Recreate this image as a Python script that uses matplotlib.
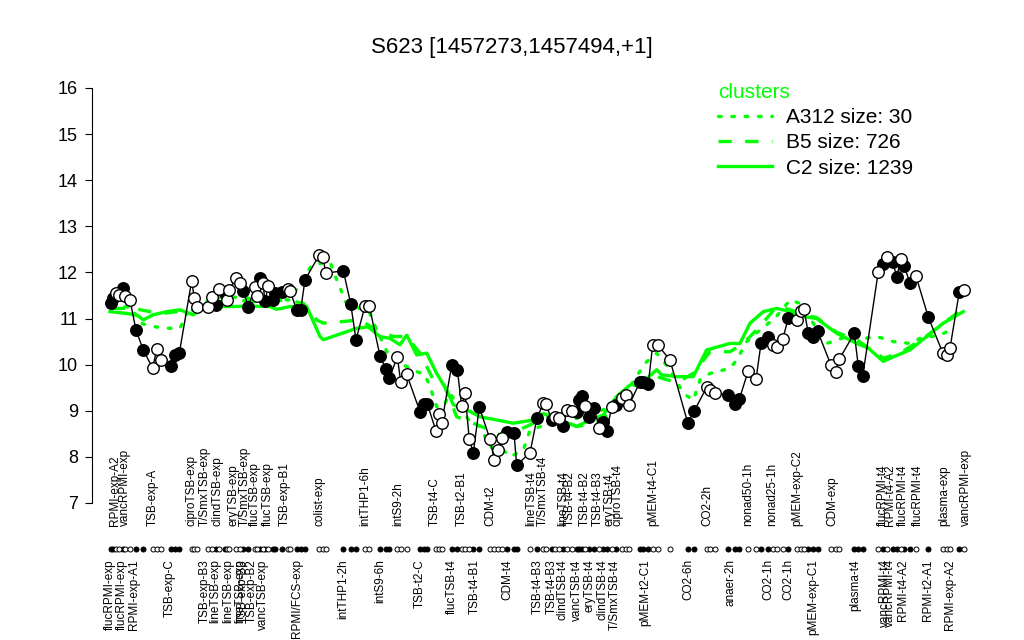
"""
S623 expression profile across conditions with cluster means
Output: out.png
"""

import matplotlib.pyplot as plt

plt.rcParams.update({
    'font.family': ['Liberation Sans', 'DejaVu Sans'],
    'font.size': 12,
})

GREEN = '#00FF00'

# sample positions (ordered along the condition axis), expression values, filled marker flag
sample_x = [110.7, 112.7, 116.0, 119.3, 123.3, 125.0, 130.0, 136.0, 143.3,
            152.7, 156.7, 161.0, 171.0, 175.0, 179.3, 191.7, 194.3, 196.7,
            208.3, 212.3, 216.0, 219.0, 225.0, 226.7, 229.0, 236.0, 240.0,
            243.3, 248.3, 255.0, 257.3, 260.0, 263.0, 265.0, 268.3, 272.7,
            275.0, 281.7, 288.3, 290.0, 296.7, 300.7, 305.0, 319.3, 323.0,
            325.7, 343.3, 350.7, 356.0, 365.0, 369.3, 380.0, 386.0, 389.3,
            397.3, 400.7, 406.7, 420.0, 424.0, 427.3, 436.0, 439.3, 441.7,
            451.7, 457.3, 461.7, 465.0, 469.3, 473.3, 479.3, 490.0, 494.3,
            498.3, 502.3, 507.3, 514.0, 516.7, 530.0, 537.0, 543.3, 546.0,
            551.7, 555.0, 559.3, 562.7, 567.3, 571.7, 576.7, 579.3, 581.7,
            585.0, 589.3, 594.3, 599.3, 602.7, 606.7, 611.7, 616.0, 621.7,
            626.0, 629.3, 640.0, 643.3, 648.3, 652.7, 657.7, 670.0, 687.7,
            694.3, 706.7, 710.0, 715.0, 728.3, 735.0, 739.3, 748.3, 756.0,
            761.0, 768.3, 772.7, 777.3, 782.7, 788.3, 796.7, 800.7, 804.0,
            808.3, 812.7, 817.7, 831.0, 836.0, 839.3, 854.3, 858.3, 862.7,
            878.3, 883.3, 886.7, 892.7, 896.7, 901.0, 904.3, 910.0, 916.0,
            928.3, 942.7, 946.7, 950.0, 959.3, 964.3]
expr = [11.33, 11.44, 11.56, 11.51, 11.66, 11.48, 11.40, 10.75, 10.32,
        9.92, 10.34, 10.10, 9.97, 10.21, 10.25, 11.82, 11.44, 11.26,
        11.26, 11.46, 11.30, 11.64, 11.55, 11.40, 11.62, 11.87, 11.77,
        11.60, 11.26, 11.68, 11.48, 11.87, 11.77, 11.37, 11.71, 11.40,
        11.55, 11.58, 11.64, 11.60, 11.19, 11.19, 11.84, 12.38, 12.34,
        11.98, 12.04, 11.32, 10.54, 11.27, 11.27, 10.19, 9.90, 9.70,
        10.17, 9.63, 9.79, 8.98, 9.15, 9.15, 8.56, 8.93, 8.73,
        9.99, 9.89, 9.10, 9.38, 8.38, 8.09, 9.08, 8.38, 7.93,
        8.15, 8.40, 8.53, 8.51, 7.82, 8.09, 8.84, 9.16, 9.15,
        8.80, 8.87, 8.84, 8.67, 9.02, 9.00, 8.98, 9.23, 9.32,
        9.10, 8.86, 9.05, 8.62, 8.76, 8.56, 9.08, 9.13, 9.27,
        9.34, 9.13, 9.63, 9.63, 9.58, 10.43, 10.43, 10.10, 8.74,
        9.00, 9.51, 9.45, 9.38, 9.34, 9.15, 9.25, 9.87, 9.68,
        10.46, 10.59, 10.43, 10.38, 10.55, 11.01, 10.96, 11.17, 11.20,
        10.68, 10.59, 10.72, 9.99, 9.85, 10.12, 10.68, 9.97, 9.75,
        12.02, 12.18, 12.34, 12.23, 11.91, 12.29, 12.13, 11.77, 11.92,
        11.03, 10.26, 10.21, 10.36, 11.58, 11.62]
filled = [1, 1, 0, 0, 1, 0, 0, 1, 1,
          0, 0, 0, 1, 1, 1, 0, 0, 0,
          0, 0, 1, 0, 1, 0, 0, 0, 0,
          1, 1, 0, 0, 1, 0, 1, 0, 1,
          1, 1, 0, 0, 1, 1, 1, 0, 0,
          0, 1, 1, 1, 0, 0, 1, 1, 1,
          0, 0, 0, 1, 1, 1, 0, 0, 0,
          1, 1, 0, 0, 0, 1, 1, 0, 0,
          0, 0, 1, 1, 1, 0, 1, 0, 0,
          1, 0, 0, 1, 0, 0, 1, 1, 1,
          0, 1, 1, 0, 1, 1, 0, 1, 0,
          0, 0, 1, 1, 1, 0, 0, 0, 1,
          1, 0, 0, 0, 1, 1, 1, 0, 0,
          1, 1, 0, 0, 0, 1, 0, 0, 0,
          1, 1, 1, 0, 0, 0, 1, 1, 1,
          0, 1, 0, 1, 1, 0, 1, 1, 0,
          1, 0, 0, 0, 1, 0]

# cluster mean profiles
c2_x = [110, 123, 136.7, 143.3, 153, 166.7, 180, 193, 206.7, 233, 246.7, 270,
        276.7, 290, 306.7, 320, 323.3, 356.7, 368, 380, 390, 400, 406.7, 416.7,
        426.7, 436.7, 446.7, 453.3, 466.7, 480, 496.7, 513.3, 533.3, 543.3, 560,
        576.7, 590, 603.3, 616.7, 630, 643.3, 656.7, 661.7, 676.7, 693.3, 706.7,
        730, 740, 750, 763.3, 776.7, 790, 805, 816.7, 836.7, 856.7, 868.3,
        883.3, 893.3, 910, 926.7, 943.3, 963.3]
c2_y = [11.15, 11.12, 11.08, 10.97, 11.08, 11.15, 11.19, 11.08, 11.26, 11.26,
        11.27, 11.26, 11.20, 11.26, 11.26, 10.61, 10.54, 10.79, 10.82, 10.61,
        10.57, 10.43, 10.64, 10.21, 10.25, 9.81, 9.45, 9.13, 9.02, 8.87, 8.80,
        8.73, 8.80, 8.94, 8.80, 8.66, 8.80, 8.91, 9.31, 9.56, 9.63, 9.89, 9.78,
        9.74, 9.74, 10.32, 10.46, 10.46, 10.90, 11.15, 11.22, 11.15, 11.04,
        11.00, 10.68, 10.46, 10.36, 10.07, 10.17, 10.32, 10.61, 10.90, 11.15]
b5_x = [111.7, 133, 150, 163.3, 176.7, 190, 206.7, 233, 256.7, 286.7, 303.3,
        316.7, 323.3, 340, 360, 376.7, 393.3, 406.7, 420, 433.3, 443.3, 456.7,
        473.3, 490, 503.3, 526.7, 550, 576.7, 596.7, 613.3, 630, 643, 656.7,
        676.7, 693.3, 710, 730, 743.3, 760, 776.7, 790, 805, 816.7, 836.7,
        856.7, 883.3, 900, 923.3, 963.3]
b5_y = [11.22, 11.22, 11.15, 11.11, 11.15, 11.15, 11.33, 11.40, 11.37, 11.40,
        11.33, 10.97, 10.90, 10.93, 10.97, 10.75, 10.61, 10.61, 10.25, 9.67,
        9.60, 8.87, 8.73, 8.58, 8.44, 8.66, 8.91, 8.66, 8.73, 9.02, 9.52, 9.61,
        9.74, 9.61, 9.81, 10.28, 10.28, 10.46, 10.83, 11.26, 11.19, 11.08,
        11.02, 10.70, 10.54, 10.14, 10.25, 10.57, 11.22]
a312_x = [111.7, 120, 131.7, 140, 153.3, 163.3, 180, 190, 223.3, 250, 270, 290,
          311.7, 330, 336.7, 341.7, 345, 370, 376.7, 390, 406.7, 416.7, 425,
          430, 433.3, 436.7, 443.3, 450, 461.7, 470, 480, 490, 503.3, 510,
          523.3, 530, 550, 566.7, 586.7, 603.3, 630, 645, 656.7, 670, 683.3,
          693.3, 700, 710, 730, 736.7, 746.7, 760, 775, 790, 800, 826.7, 846.7,
          865, 876.7, 893.3, 910, 920, 940, 950]
a312_y = [11.26, 11.27, 11.24, 10.90, 10.83, 10.79, 10.79, 11.26, 11.48, 11.44,
          11.44, 11.40, 12.16, 12.23, 11.84, 11.58, 11.37, 11.11, 10.75, 10.14,
          9.96, 9.85, 9.78, 9.52, 9.31, 9.09, 9.09, 9.38, 9.02, 8.76, 8.66,
          8.22, 8.15, 8.00, 8.15, 8.58, 8.73, 8.73, 8.94, 9.02, 9.52, 10.03,
          10.25, 9.89, 9.38, 9.23, 9.67, 9.81, 9.92, 10.10, 10.50, 10.75, 11.01,
          11.40, 11.33, 10.46, 10.61, 10.57, 10.61, 10.50, 10.46, 10.57, 10.64,
          10.75]

# condition labels above and below the sample strip
top_x = [115, 125, 153, 191, 205, 218, 233, 245, 255, 268, 285,
         320, 365, 398, 435, 462, 490, 531, 543, 563, 570, 585, 598, 610, 618,
         653, 707, 748, 772, 797, 832, 883, 890, 903, 918, 944, 966]
top_labels = ['RPMI-exp-A2', 'vancRPMI-exp', 'TSB-exp-A', 'ciproTSB-exp',
              'T/SmxTSB-exp', 'clindTSB-exp', 'eryTSB-exp', 'T/SmxTSB-exp',
              'flucTSB-exp', 'flucTSB-exp', 'TSB-exp-B1',
              'colist-exp', 'intTHP1-6h', 'intS9-2h', 'TSB-t4-C', 'TSB-t2-B1',
              'CDM-t2', 'lineTSB-t4', 'T/SmxTSB-t4', 'lineTSB-t4', 'TSB-t4-B2',
              'TSB-t4-B2', 'TSB-t4-B3', 'eryTSB-t4', 'ciproTSB-t4',
              'pMEM-t4-C1', 'CO2-2h', 'nonad50-1h', 'nonad25-1h', 'pMEM-exp-C2',
              'CDM-exp', 'flucRPMI-t4', 'RPMI-t4-A2', 'flucRPMI-t4', 'flucRPMI-t4',
              'plasma-exp', 'vancRPMI-exp']
bottom_x = [110, 122, 134, 170, 205, 215, 228, 240, 243, 252, 263, 297,
            343, 380, 420, 452, 475, 507, 538, 552, 563, 577, 590, 603, 615,
            645, 688, 730, 768, 788, 813, 855, 885, 890, 903, 928, 950]
bottom_labels = ['flucRPMI-exp', 'flucRPMI-exp', 'RPMI-exp-A1', 'TSB-exp-C',
                 'TSB-exp-B3', 'lineTSB-exp', 'lineTSB-exp', 'lineTSB-exp',
                 'TSB-exp-B3', 'TSB-exp-B2', 'vancTSB-exp', 'RPMI/FCS-exp',
                 'intTHP1-2h', 'intS9-6h', 'TSB-t2-C', 'flucTSB-t4', 'TSB-t4-B1',
                 'CDM-t4', 'TSB-t4-B3', 'TSB-t4-B3', 'clindTSB-t4', 'vancTSB-t4',
                 'eryTSB-t4', 'clindTSB-t4', 'T/SmxTSB-t4', 'pMEM-t2-C1',
                 'CO2-6h', 'anaer-2h', 'CO2-1h', 'CO2-1h', 'pMEM-exp-C1',
                 'plasma-t4', 'vancRPMI-t4', 'vancRPMI-t4', 'RPMI-t4-A2',
                 'RPMI-t2-A1', 'RPMI-exp-A2']


def create_chart():
    fig = plt.figure(figsize=(10.24, 6.4), dpi=100)
    # axes spans pixel rows 60..620; y=7 sits at row 503, 46.1 px per unit
    ax = fig.add_axes([92 / 1024, 20 / 640, (990 - 92) / 1024, 560 / 640])
    ax.set_xlim(92, 990)
    ax.set_ylim(4.4626, 16.607)

    # cluster means
    l_dot, = ax.plot(a312_x, a312_y, color=GREEN, lw=2.4, ls=(0, (0.8, 3.2)),
                     solid_capstyle='round', dash_capstyle='round')
    l_dash, = ax.plot(b5_x, b5_y, color=GREEN, lw=2.4, ls=(0, (4, 4)))
    l_sol, = ax.plot(c2_x, c2_y, color=GREEN, lw=2.4)

    # expression profile
    ax.plot(sample_x, expr, color='black', lw=1.0, zorder=3)
    fx = [x for x, f in zip(sample_x, filled) if f]
    fy = [y for y, f in zip(expr, filled) if f]
    ox = [x for x, f in zip(sample_x, filled) if not f]
    oy = [y for y, f in zip(expr, filled) if not f]
    ax.plot(fx, fy, 'o', ms=8.3, mfc='black', mec='black', mew=1, zorder=4)
    ax.plot(ox, oy, 'o', ms=8.3, mfc='white', mec='black', mew=1, zorder=4)

    # sample strip
    ax.plot(fx, [6.0] * len(fx), 'o', ms=3.6, mfc='black', mec='black',
            mew=0.7, clip_on=False)
    ax.plot(ox, [6.0] * len(ox), 'o', ms=3.6, mfc='white', mec='black',
            mew=0.7, clip_on=False)

    for x, lab in zip(top_x, top_labels):
        ax.text(x, 6.5, lab, rotation=90, ha='center', va='bottom', fontsize=8.5)
    for x, lab in zip(bottom_x, bottom_labels):
        ax.text(x, 5.78, lab, rotation=90, ha='center', va='top', fontsize=8.5)

    for side in ['top', 'right', 'bottom']:
        ax.spines[side].set_visible(False)
    ax.spines['left'].set_bounds(7, 16)
    ax.set_xticks([])
    ax.set_yticks(range(7, 17))
    ax.tick_params(axis='y', length=5, labelsize=13, pad=5)

    fig.text(0.5, 1 - 47 / 640, 'S623 [1457273,1457494,+1]', ha='center',
             va='center', fontsize=16)

    leg = ax.legend([l_dot, l_dash, l_sol],
                    ['A312 size: 30', 'B5 size: 726', 'C2 size: 1239'],
                    title='clusters', loc='upper left',
                    bbox_to_anchor=(718 / 1024, 1 - 83 / 640),
                    bbox_transform=fig.transFigure, frameon=False,
                    fontsize=15, title_fontsize=15, alignment='left',
                    handlelength=2.6, handletextpad=0.65, labelspacing=0.3,
                    borderpad=0, borderaxespad=0)
    leg.get_title().set_color(GREEN)

    fig.savefig('out.png', dpi=100)
    plt.close(fig)


if __name__ == '__main__':
    create_chart()
